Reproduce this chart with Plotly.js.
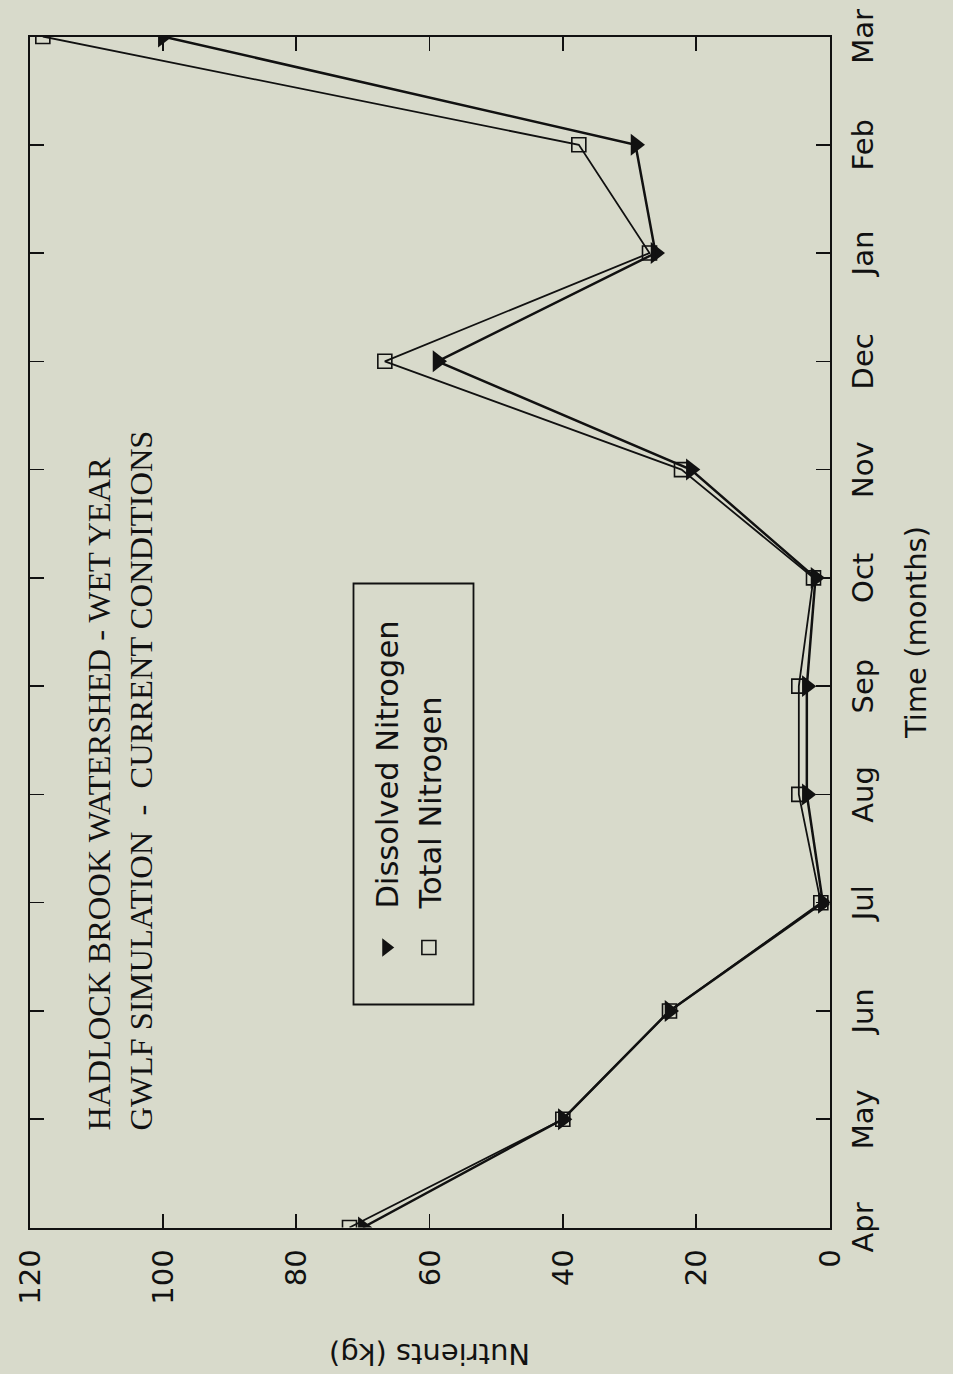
<!DOCTYPE html>
<html>
<head>
<meta charset="utf-8">
<script src="https://cdn.plot.ly/plotly-3.0.1.min.js"></script>
<style>
  html, body { margin:0; padding:0; width:953px; height:1374px; overflow:hidden; background:#d8dacb; }
  #chart { position:absolute; left:-210.5px; top:210.5px; width:1374px; height:953px;
           transform: rotate(-90deg); transform-origin: 50% 50%; }
</style>
</head>
<body>
<div id="chart"></div>
<script>
// Data
const months = ['Apr','May','Jun','Jul','Aug','Sep','Oct','Nov','Dec','Jan','Feb','Mar'];
const dissolvedN = [70, 40, 24, 1.0, 3.4, 3.4, 2.1, 20.8, 58.8, 26.1, 29.1, 100];
const totalN     = [72, 40, 24, 1.3, 4.6, 4.6, 2.4, 22.2, 66.7, 27.0, 37.6, 118];
const valueTicks = [0, 20, 40, 60, 80, 100, 120];

const ink = '#111111';
const bg = '#d8dacb';
const sans = '"DejaVu Sans", sans-serif';

const traces = [
  { x: months, y: dissolvedN, type: 'scatter', mode: 'lines', showlegend: false,
    line: { color: ink, width: 2.5 }, hoverinfo: 'skip' },
  { x: months, y: totalN, type: 'scatter', mode: 'lines', showlegend: false,
    line: { color: ink, width: 1.8 }, hoverinfo: 'skip' },
  { x: months, y: dissolvedN, type: 'scatter', mode: 'markers', name: 'Dissolved Nitrogen',
    marker: { symbol: 'triangle-down', size: 19, color: ink, line: { width: 0 } } },
  { x: months, y: totalN, type: 'scatter', mode: 'markers', name: 'Total Nitrogen',
    marker: { symbol: 'square-open', size: 14, color: ink, line: { width: 1.6, color: ink } } }
];

const layout = {
  width: 1374, height: 953,
  margin: { l: 147, r: 36, t: 29, b: 124 },
  paper_bgcolor: bg, plot_bgcolor: bg,
  font: { family: sans, size: 29, color: ink },
  showlegend: true,
  legend: {
    x: (388 - 147) / 1191, y: 0.587, xanchor: 'left', yanchor: 'top',
    bgcolor: 'rgba(0,0,0,0)', borderwidth: 0,
    itemwidth: 68,
    font: { family: sans, size: 30.5, color: ink },
    tracegroupgap: 0
  },
  xaxis: {
    type: 'category', categoryorder: 'array', categoryarray: months,
    range: [0, 11], fixedrange: true,
    showline: true, linecolor: ink, linewidth: 2, mirror: 'ticks',
    ticks: 'inside', ticklen: 14, tickwidth: 1.5, tickcolor: ink,
    showgrid: false, zeroline: false,
    ticklabelstandoff: 7,
    tickfont: { family: sans, size: 29, color: ink },
    title: { text: 'Time (months)', font: { family: sans, size: 29, color: ink }, standoff: 26 }
  },
  yaxis: {
    range: [0, 120], fixedrange: true,
    tickvals: valueTicks, ticktext: valueTicks.map(String),
    showline: true, linecolor: ink, linewidth: 2, mirror: 'ticks',
    ticks: 'inside', ticklen: 14, tickwidth: 1.5, tickcolor: ink,
    showgrid: false, zeroline: false,
    ticklabelstandoff: 14,
    tickfont: { family: sans, size: 29, color: ink },
    title: { text: 'Nutrients (kg)', font: { family: sans, size: 29, color: ink }, standoff: 30 }
  },
  shapes: [
    { type: 'rect', xref: 'paper', yref: 'paper',
      x0: (370 - 147) / 1191, x1: (791 - 147) / 1191,
      y0: 1 - (473 - 29) / 800, y1: 1 - (353 - 29) / 800,
      line: { color: ink, width: 1.8 }, fillcolor: 'rgba(0,0,0,0)' }
  ],
  annotations: [
    { xref: 'paper', yref: 'paper', x: (242 - 147) / 1191, y: 1 - (119 - 29) / 800,
      xanchor: 'left', yanchor: 'middle', align: 'left', showarrow: false,
      text: 'HADLOCK BROOK WATERSHED - WET YEAR<br>GWLF SIMULATION  -  CURRENT CONDITIONS',
      font: { family: '"Liberation Serif", "Times New Roman", serif', size: 32.5, color: ink } }
  ]
};

Plotly.newPlot('chart', traces, layout, { staticPlot: true, displayModeBar: false });
</script>
</body>
</html>
